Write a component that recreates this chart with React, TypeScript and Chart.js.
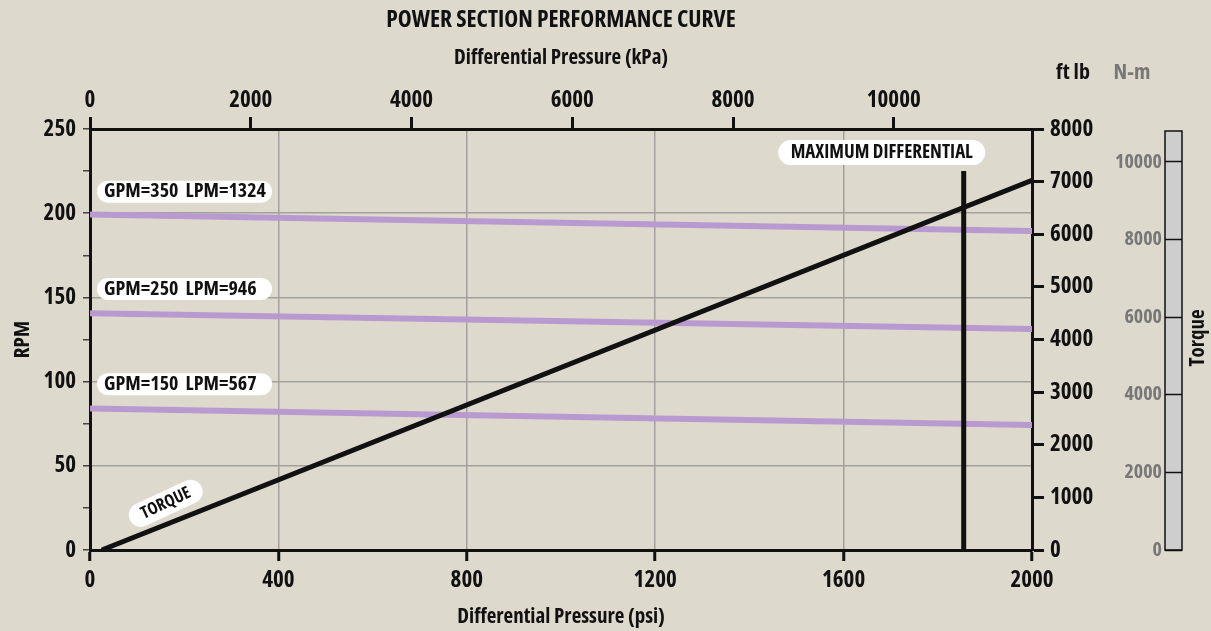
import { useEffect, useRef } from 'react';
import { Chart, registerables } from 'chart.js';

Chart.register(...registerables);

const FAMILY = "'Open Sans', 'DejaVu Sans', sans-serif";
const WEIGHT = 'bold condensed';
const BG = '#dddacd';
const INK = '#111111';
const GREY_TXT = '#777777';
const PURPLE = '#b99ad0';
const GRID = '#a2a19c';

// ---- data ----
const psiRange = [0, 2000];
const psiTicks = [0, 400, 800, 1200, 1600, 2000];
const kpaRange = [0, 11720];
const kpaTicks = [0, 2000, 4000, 6000, 8000, 10000];
const rpmRange = [0, 250];
const rpmTicks = [0, 25, 50, 75, 100, 125, 150, 175, 200, 225, 250];
const rpmLabelled = [0, 50, 100, 150, 200, 250];
const ftlbRange = [0, 8000];
const ftlbTicks = [0, 1000, 2000, 3000, 4000, 5000, 6000, 7000, 8000];
const nmRange = [0, 10847];
const nmTicks = [0, 2000, 4000, 6000, 8000, 10000];

const flowPsi = [0, 2000];
const rpm350 = [199.3, 189.5];
const rpm250 = [140.6, 131.2];
const rpm150 = [84.0, 74.3];
const flowLabels = ['GPM=350  LPM=1324', 'GPM=250  LPM=946', 'GPM=150  LPM=567'];
const flowLabelPsi = [15, 15, 15];
const flowLabelRpm = [212.8, 155.0, 98.5];

const torquePsi = [25, 2000];
const torqueFtLb = [0, 7025];
const torqueLabel = 'TORQUE';
const torqueLabelPos = [161, 27.7];

const maxDiffPsi = [1855, 1855];
const maxDiffRpm = [0, 225];
const maxDiffLabel = 'MAXIMUM DIFFERENTIAL';
const maxDiffLabelPos = [1681, 236];

const titleText = 'POWER SECTION PERFORMANCE CURVE';
const kpaTitle = 'Differential Pressure (kPa)';
const psiTitle = 'Differential Pressure (psi)';
const rpmTitle = 'RPM';
const ftlbUnit = 'ft lb';
const nmUnit = 'N-m';
const torqueTitle = 'Torque';

const BOXW = 17;

const f = (size: number) => `${WEIGHT} ${size}px ${FAMILY}`;

function pill(ctx: CanvasRenderingContext2D, x: number, cy: number, w: number, h: number) {
  ctx.beginPath();
  (ctx as any).roundRect(x, cy - h / 2, w, h, h / 2);
  ctx.fillStyle = '#ffffff';
  ctx.fill();
}

const decor = {
  id: 'decor',
  beforeDraw(chart: any) {
    const ctx = chart.ctx as CanvasRenderingContext2D;
    ctx.save();
    ctx.fillStyle = BG;
    ctx.fillRect(0, 0, chart.width, chart.height);
    const s = chart.scales.y3;
    ctx.fillStyle = '#cecece';
    ctx.fillRect(s.left, s.top + 2, BOXW, s.bottom - s.top - 2);
    ctx.restore();
  },
  afterDraw(chart: any) {
    const ctx = chart.ctx as CanvasRenderingContext2D;
    const sx = chart.scales.x;
    const sy = chart.scales.y;
    const s3 = chart.scales.y3;
    ctx.save();
    ctx.strokeStyle = INK;
    ctx.lineWidth = 1.5;
    ctx.strokeRect(s3.left, s3.top + 2, BOXW, s3.bottom - s3.top - 2);

    ctx.font = f(22);
    ctx.textAlign = 'center';
    ctx.textBaseline = 'middle';
    ctx.fillStyle = INK;
    ctx.fillText(ftlbUnit, 1073, 73);
    ctx.fillStyle = GREY_TXT;
    ctx.fillText(nmUnit, 1132, 73);

    ctx.save();
    ctx.translate(1198, 338);
    ctx.rotate(-Math.PI / 2);
    ctx.fillStyle = INK;
    ctx.font = f(21);
    ctx.fillText(torqueTitle, 0, 0);
    ctx.restore();

    ctx.font = f(20);
    for (let i = 0; i < flowLabels.length; i++) {
      const x = sx.getPixelForValue(flowLabelPsi[i]);
      const y = sy.getPixelForValue(flowLabelRpm[i]);
      pill(ctx, x, y, 175, 22);
      ctx.fillStyle = INK;
      ctx.textAlign = 'left';
      ctx.fillText(flowLabels[i], x + 7, y);
    }

    {
      ctx.font = f(19);
      const x = sx.getPixelForValue(maxDiffLabelPos[0]);
      const y = sy.getPixelForValue(maxDiffLabelPos[1]);
      pill(ctx, x - 103.5, y, 207, 25);
      ctx.fillStyle = INK;
      ctx.textAlign = 'center';
      ctx.fillText(maxDiffLabel, x, y);
    }

    {
      ctx.font = f(17);
      const x = sx.getPixelForValue(torqueLabelPos[0]);
      const y = sy.getPixelForValue(torqueLabelPos[1]);
      ctx.save();
      ctx.translate(x, y);
      ctx.rotate((-25 * Math.PI) / 180);
      pill(ctx, -39.5, 0, 79, 24);
      ctx.fillStyle = INK;
      ctx.textAlign = 'center';
      ctx.fillText(torqueLabel, 0, 0);
      ctx.restore();
    }
    ctx.restore();
  },
};

const font = (size: number, extra: any = {}) => ({ family: FAMILY, size, weight: WEIGHT, lineHeight: 1, ...extra });
const setTicks = (vals: number[]) => (s: any) => {
  s.ticks = vals.map((v) => ({ value: v }));
};
const plain = (v: any) => String(v);

export default function App() {
  const ref = useRef<HTMLCanvasElement | null>(null);

  useEffect(() => {
    if (!ref.current) return;
    const pts = (xs: number[], ys: number[]) => xs.map((x, i) => ({ x, y: ys[i] }));
    const line = (label: string, data: any[], color: string, width: number, yAxisID: string) => ({
      label,
      data,
      borderColor: color,
      borderWidth: width,
      pointRadius: 0,
      borderCapStyle: 'butt',
      xAxisID: 'x',
      yAxisID,
    });
    const chart = new Chart(ref.current, {
      type: 'line',
      data: {
        datasets: [
          line('Max differential', pts(maxDiffPsi, maxDiffRpm), INK, 5, 'y'),
          line('Torque', pts(torquePsi, torqueFtLb), INK, 5, 'y2'),
          line(flowLabels[0], pts(flowPsi, rpm350), PURPLE, 6, 'y'),
          line(flowLabels[1], pts(flowPsi, rpm250), PURPLE, 6, 'y'),
          line(flowLabels[2], pts(flowPsi, rpm150), PURPLE, 6, 'y'),
        ],
      },
      options: {
        responsive: false,
        animation: false,
        devicePixelRatio: 1,
        layout: { padding: 0 },
        plugins: {
          legend: { display: false },
          tooltip: { enabled: false },
          title: {
            display: true,
            fullSize: false,
            text: titleText,
            color: INK,
            font: font(23.5),
            padding: { top: 9, bottom: 0 },
          },
        },
        scales: {
          x: {
            type: 'linear',
            position: 'bottom',
            min: psiRange[0],
            max: psiRange[1],
            afterBuildTicks: setTicks(psiTicks),
            ticks: { color: INK, font: font(23), padding: 8, maxRotation: 0, autoSkip: false, callback: plain },
            grid: { color: GRID, lineWidth: 1.5, tickColor: INK, tickWidth: 3, tickLength: 11 },
            border: { color: INK, width: 3 },
            title: { display: true, text: psiTitle, color: INK, font: font(21), padding: { top: 0, bottom: 3 } },
            afterFit: (s: any) => { s.height = 81; },
          },
          x2: {
            type: 'linear',
            position: 'top',
            min: kpaRange[0],
            max: kpaRange[1],
            afterBuildTicks: setTicks(kpaTicks),
            ticks: { color: INK, font: font(23), padding: 5, maxRotation: 0, autoSkip: false, callback: plain },
            grid: { drawOnChartArea: false, tickColor: INK, tickWidth: 3, tickLength: 12 },
            border: { color: INK, width: 3 },
            title: { display: true, text: kpaTitle, color: INK, font: font(21), padding: { top: 15, bottom: 0 } },
            afterFit: (s: any) => { s.height = 96.5; },
          },
          y: {
            type: 'linear',
            position: 'left',
            min: rpmRange[0],
            max: rpmRange[1],
            afterBuildTicks: setTicks(rpmTicks),
            ticks: {
              color: INK,
              font: font(23),
              padding: 7,
              autoSkip: false,
              callback: (v: any) => (rpmLabelled.includes(Number(v)) ? String(v) : ''),
            },
            grid: {
              color: (c: any) => (c.tick && rpmLabelled.includes(c.tick.value) ? GRID : 'rgba(0,0,0,0)'),
              lineWidth: 1.5,
              tickColor: '#444444',
              tickWidth: 1.5,
              tickLength: 7,
            },
            border: { color: INK, width: 3 },
            title: { display: true, text: rpmTitle, color: INK, font: font(21), padding: { top: 13, bottom: 0 } },
            afterFit: (s: any) => { s.width = 90; },
          },
          y2: {
            type: 'linear',
            position: 'right',
            min: ftlbRange[0],
            max: ftlbRange[1],
            afterBuildTicks: setTicks(ftlbTicks),
            ticks: { color: INK, font: font(23), padding: 6, autoSkip: false, callback: plain },
            grid: { drawOnChartArea: false, tickColor: INK, tickWidth: 3, tickLength: 12 },
            border: { color: INK, width: 3 },
            afterFit: (s: any) => { s.width = 133; },
          },
          y3: {
            type: 'linear',
            position: 'right',
            min: nmRange[0],
            max: nmRange[1],
            afterBuildTicks: setTicks(nmTicks),
            ticks: {
              color: GREY_TXT,
              font: font(20),
              mirror: true,
              padding: -3,
              autoSkip: false,
              callback: plain,
            },
            grid: { drawOnChartArea: false, tickColor: INK, tickWidth: 1.5, tickLength: BOXW },
            border: { display: false },
            afterFit: (s: any) => { s.width = 46; },
          },
        },
      } as any,
      plugins: [decor],
    });
    return () => chart.destroy();
  }, []);

  return (
    <div style={{ position: 'fixed', left: 0, top: 0, width: 1211, height: 631, background: BG }}>
      <canvas ref={ref} width={1211} height={631} style={{ display: 'block' }} />
    </div>
  );
}
